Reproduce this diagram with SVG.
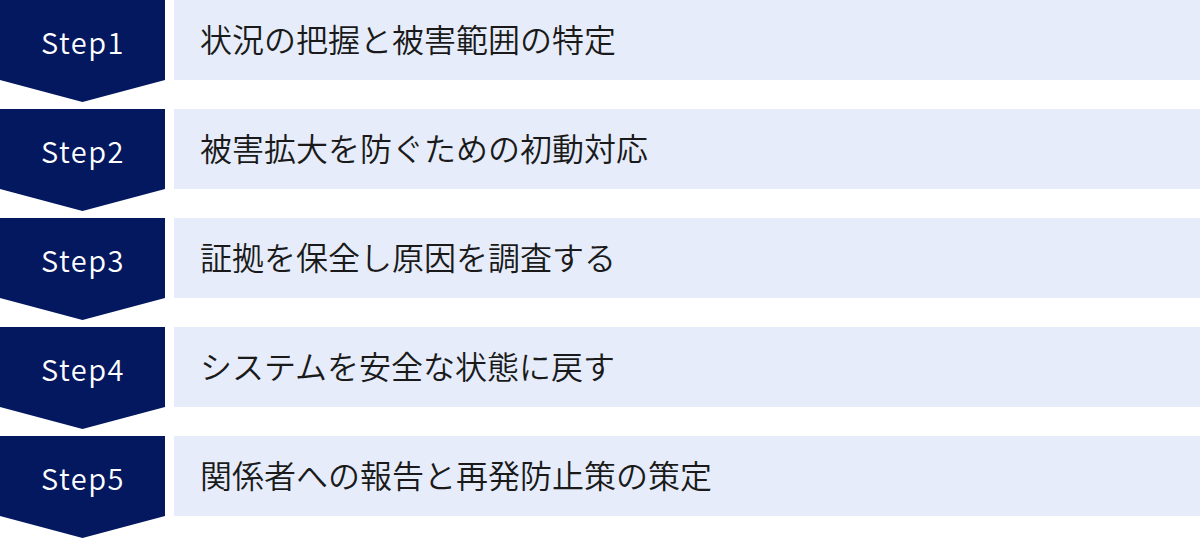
<svg xmlns="http://www.w3.org/2000/svg" width="1200" height="538" viewBox="0 0 1200 538">
<defs>
<style>
.step{fill:#03185f}
.box{fill:#e6ecf9}
.st{font-family:"Noto Sans CJK JP","Noto Sans",sans-serif;font-size:29px;font-weight:350;letter-spacing:1.5px;fill:#ffffff;text-anchor:middle}
.tx{font-family:"Noto Sans CJK JP","Noto Sans",sans-serif;font-size:32px;font-weight:350;fill:#1a1a1a}
</style>
<path id="chev" d="M0 0H165V80L82.5 102L0 80Z"/>
</defs>
<rect width="1200" height="538" fill="#ffffff"/>
<g id="step1" transform="translate(0,0)">
<use href="#chev" class="step"/>
<rect class="box" x="174" y="0" width="1026" height="80"/>
<text class="st" x="83" y="54">Step1</text>
<text class="tx" x="200" y="52">状況の把握と被害範囲の特定</text>
</g>
<g id="step2" transform="translate(0,109)">
<use href="#chev" class="step"/>
<rect class="box" x="174" y="0" width="1026" height="80"/>
<text class="st" x="83" y="54">Step2</text>
<text class="tx" x="200" y="52">被害拡大を防ぐための初動対応</text>
</g>
<g id="step3" transform="translate(0,218)">
<use href="#chev" class="step"/>
<rect class="box" x="174" y="0" width="1026" height="80"/>
<text class="st" x="83" y="54">Step3</text>
<text class="tx" x="200" y="52">証拠を保全し原因を調査する</text>
</g>
<g id="step4" transform="translate(0,327)">
<use href="#chev" class="step"/>
<rect class="box" x="174" y="0" width="1026" height="80"/>
<text class="st" x="83" y="54">Step4</text>
<text class="tx" x="200" y="52">システムを安全な状態に戻す</text>
</g>
<g id="step5" transform="translate(0,436)">
<use href="#chev" class="step"/>
<rect class="box" x="174" y="0" width="1026" height="80"/>
<text class="st" x="83" y="54">Step5</text>
<text class="tx" x="200" y="52">関係者への報告と再発防止策の策定</text>
</g>
<g id="connectors"/>
</svg>
